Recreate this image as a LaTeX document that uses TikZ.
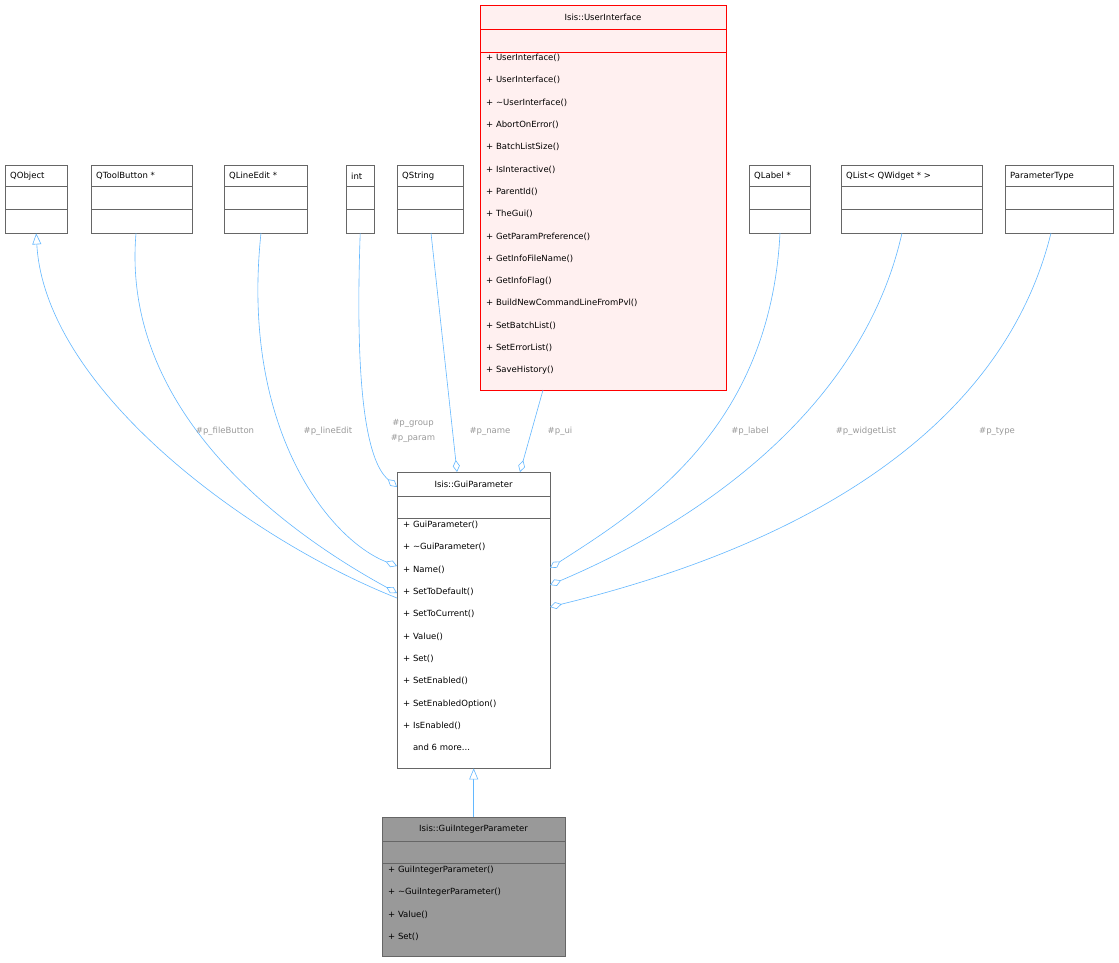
\documentclass[tikz,border=0pt]{standalone}
\usepackage{fontspec}
\setmainfont{DejaVu Sans}
\usetikzlibrary{arrows.meta}
\definecolor{edge}{HTML}{63B8FF}
\definecolor{lbl}{HTML}{9A9A9A}
\definecolor{uifill}{HTML}{FFF0F0}
\begin{document}
\begin{tikzpicture}[x=1pt,y=-1pt,
	box/.style={draw=black!60, fill=white, anchor=north west, inner sep=0pt},
	txt/.style={font=\fontsize{8.5}{10}\selectfont, inner sep=0pt},
	members/.style={txt, align=left, anchor=north west, font=\fontsize{8.5}{22.3}\selectfont},
	link/.style={edge, line width=0.6pt},
	agg/.style={link, {Diamond[open,fill=white,length=12pt,width=7pt]}-},
	inh/.style={link, {Triangle[open,fill=white,length=11pt,width=9pt]}-},
	elbl/.style={txt, text=lbl, align=center}]
	\useasboundingbox (0,0) rectangle (1119,962);
	\fill[white] (0,0) rectangle (1119,962);
	
	% small classes
	\foreach \n/\x/\w/\t in {qobject/5/62/QObject, qtoolbutton/91/101/QToolButton *, qlineedit/224/83/QLineEdit *, int/346/28/int, qstring/397/66/QString, qlabel/749/61/QLabel *, qlist/841/141/QList< QWidget * >, paramtype/1005/108/ParameterType}{
		\node[box, minimum width=\w pt, minimum height=68pt] (\n) at (\x,165) {};
		\node[txt, anchor=west] at (\x+5,176) {\t};
		\draw[black!60] (\x,186) -- ++(\w,0);
		\draw[black!60] (\x,209) -- ++(\w,0);
	}
	
	% user interface
	\node[box, draw=red, fill=uifill, minimum width=246pt, minimum height=385pt] (ui) at (480,5) {};
	\node[txt] at (603,17) {Isis::UserInterface};
	\draw[red] (480,29) -- ++(246,0);
	\draw[red] (480,52) -- ++(246,0);
	\node[members] at (486,54) {+ UserInterface()\\+ UserInterface()\\+ \textasciitilde UserInterface()\\+ AbortOnError()\\+ BatchListSize()\\+ IsInteractive()\\+ ParentId()\\+ TheGui()\\+ GetParamPreference()\\+ GetInfoFileName()\\+ GetInfoFlag()\\+ BuildNewCommandLineFromPvl()\\+ SetBatchList()\\+ SetErrorList()\\+ SaveHistory()};
	
	% gui parameter
	\node[box, minimum width=153pt, minimum height=296pt] (guiparam) at (397,472) {};
	\node[txt] at (473.5,484) {Isis::GuiParameter};
	\draw[black!60] (397,496) -- ++(153,0);
	\draw[black!60] (397,518) -- ++(153,0);
	\node[members] at (403,521) {+ GuiParameter()\\+ \textasciitilde GuiParameter()\\+ Name()\\+ SetToDefault()\\+ SetToCurrent()\\+ Value()\\+ Set()\\+ SetEnabled()\\+ SetEnabledOption()\\+ IsEnabled()\\\phantom{+ }and 6 more...};
	
	% gui integer parameter
	\node[box, fill=black!40, minimum width=183pt, minimum height=139pt] (guiint) at (382,817) {};
	\node[txt] at (473.5,829) {Isis::GuiIntegerParameter};
	\draw[black!60] (382,841) -- ++(183,0);
	\draw[black!60] (382,863) -- ++(183,0);
	\node[members] at (388,866) {+ GuiIntegerParameter()\\+ \textasciitilde GuiIntegerParameter()\\+ Value()\\+ Set()};
	
	% inheritance
	\draw[inh] (qobject.south) .. controls (45,390) and (250,540) .. (397,598);
	\draw[inh] (guiparam.south) -- (guiint.north);
	
	% aggregation
	\draw[agg] (397,593) .. controls (300,540) and (120,420) .. (qtoolbutton.south -| 136,0);
	\draw[agg] (397,566) .. controls (330,540) and (240,430) .. (261,233);
	\draw[agg] (397,487) .. controls (365,460) and (355,380) .. (int.south);
	\draw[agg] (457,472) -- (431,233);
	\draw[agg] (520,472) -- (543,390);
	\draw[agg] (550,568) .. controls (640,510) and (770,430) .. (780,233);
	\draw[agg] (550,585) .. controls (680,530) and (860,420) .. (902,233);
	\draw[agg] (550,607) .. controls (700,570) and (990,480) .. (1051,233);
	
	% labels
	\node[elbl] (lfile) at (225,431) {\#p\_fileButton};
	\node[elbl] (lline) at (328,431) {\#p\_lineEdit};
	\node[elbl, font=\fontsize{8.5}{15}\selectfont] (lgroup) at (413,431) {\#p\_group\\\#p\_param};
	\node[elbl] (lname) at (490,431) {\#p\_name};
	\node[elbl] (lui) at (560,431) {\#p\_ui};
	\node[elbl] (llabel) at (750,431) {\#p\_label};
	\node[elbl] (lwidget) at (866,431) {\#p\_widgetList};
	\node[elbl] (ltype) at (997,431) {\#p\_type};
\end{tikzpicture}
\end{document}
